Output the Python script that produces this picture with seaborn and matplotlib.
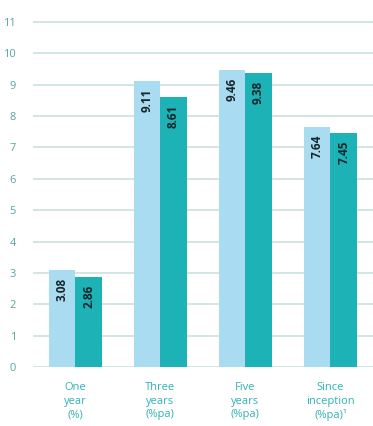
import matplotlib
matplotlib.use("Agg")
import matplotlib.pyplot as plt
import seaborn as sns
import pandas as pd

categories = ["One\nyear\n(%)", "Three\nyears\n(%pa)", "Five\nyears\n(%pa)", "Since\ninception\n(%pa)\u00b9"]
series_names = ["Fund", "Benchmark"]
fund_values = [3.08, 9.11, 9.46, 7.64]
bench_values = [2.86, 8.61, 9.38, 7.45]
yticks = list(range(0, 12))

sns.set_theme(style="white")
plt.rcParams['font.family'] = ['Open Sans', 'DejaVu Sans']

df = pd.DataFrame({
    "category": categories * 2,
    "series": [series_names[0]] * 4 + [series_names[1]] * 4,
    "value": fund_values + bench_values,
})

fig = plt.figure(figsize=(3.73, 4.26), dpi=100)
ax = fig.add_axes([0.088, 0.1385, 0.912, 0.832])

palette = {"Fund": "#a9dcf1", "Benchmark": "#1cb2b6"}
sns.barplot(data=df, x="category", y="value", hue="series", palette=palette,
            width=0.62, gap=0, ax=ax, legend=False, saturation=1, zorder=3,
            linewidth=0)

ax.set_ylim(0, 11.3)
ax.set_xlim(-0.5, 3.5)
ax.set_yticks(yticks)
ax.set_yticklabels([str(t) for t in yticks])
for t in yticks:
    ax.axhline(t, color="#cfe3e3", lw=1.3, zorder=1)

for c in ax.containers:
    for patch, v in zip(c.patches, c.datavalues):
        x = patch.get_x() + patch.get_width() / 2
        ax.annotate(f"{v:.2f}", xy=(x, patch.get_height()), xytext=(0, -5.5),
                    textcoords="offset points", rotation=90, ha="center", va="top",
                    fontsize=8.5, fontweight="bold", color="#16262a", zorder=4)

ax.set_xlabel("")
ax.set_ylabel("")
for s in ax.spines.values():
    s.set_visible(False)
ax.tick_params(axis="y", length=0, labelsize=8, labelcolor="#5aa3a5", pad=12)
ax.tick_params(axis="x", length=0, labelsize=8, labelcolor="#2fb3b3", pad=11)
for lbl in ax.get_xticklabels():
    lbl.set_linespacing(1.3)

fig.savefig("out.png", dpi=100)
